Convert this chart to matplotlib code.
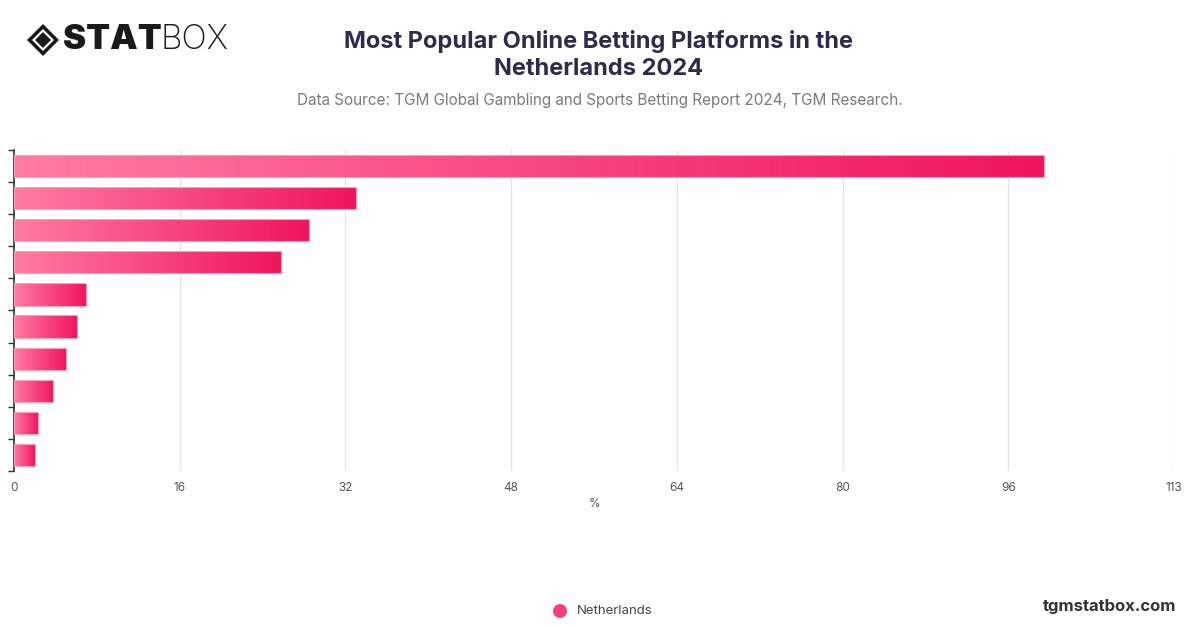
import numpy as np
import matplotlib.pyplot as plt
from matplotlib.colors import LinearSegmentedColormap
from matplotlib.patches import Polygon, Ellipse

# data (no category labels are shown on the chart)
platforms = ["Platform %d" % i for i in range(1, 11)]
share = [100.3, 33.3, 28.7, 26.0, 7.0, 6.1, 5.1, 3.8, 2.3, 2.0]
x_max = 113
series_name = "Netherlands"

title = "Most Popular Online Betting Platforms in the\nNetherlands 2024"
subtitle = "Data Source: TGM Global Gambling and Sports Betting Report 2024, TGM Research."

plt.rcParams['font.family'] = ['Inter', 'DejaVu Sans']

W, H = 1200, 628
fig = plt.figure(figsize=(W / 100, H / 100), dpi=100)
fig.patch.set_facecolor('white')

ax = fig.add_axes([14 / W, 1 - 471 / H, 1160 / W, 321 / H])

pink = LinearSegmentedColormap.from_list('pk', ['#ff7ca2', '#f0155d'])
grad = np.linspace(0, 1, 256).reshape(1, -1)

y = np.arange(len(platforms))
h = 0.69
bars = ax.barh(y, share, height=h, facecolor='none', edgecolor='#ff9fbd',
               linewidth=0.8, zorder=3)
for b, v, yy in zip(bars, share, y):
    im = ax.imshow(grad, cmap=pink, aspect='auto', zorder=2,
                   extent=[0, v, yy + h / 2, yy - h / 2])
    im.set_clip_path(b)

ax.set_xlim(0, x_max)
ax.set_ylim(len(platforms) - 0.5, -0.5)
ax.set_aspect('auto')

ticks = np.linspace(0, x_max, 8)
ax.set_xticks(ticks)
ax.set_xticklabels([str(int(t + 1e-9)) for t in ticks], fontsize=8.5, color='#555555')
ax.tick_params(axis='x', length=0, pad=8)
ax.grid(axis='x', color='#e4e4e4', linewidth=0.9, zorder=0)
ax.set_axisbelow(True)

ax.set_yticks([])
ax.set_yticks(np.arange(-0.5, len(platforms)), minor=True)
ax.tick_params(axis='y', which='minor', length=4, width=1, color='#333333')
ax.set_yticklabels([], minor=True)

for s in ['top', 'right', 'bottom']:
    ax.spines[s].set_visible(False)
ax.spines['left'].set_color('#333333')
ax.spines['left'].set_linewidth(1.2)

ax.set_xlabel('%', fontsize=8.5, color='#555555', labelpad=3)

# titles
fig.text(598 / W, 1 - 55 / H, title, ha='center', va='center', fontsize=17,
         fontweight='bold', color='#2e2c4c', linespacing=1.3)
fig.text(600 / W, 1 - 101 / H, subtitle, ha='center', va='center', fontsize=11,
         color='#7a7a7a')

# logo
def fx(px):
    return px / W

def fy(py):
    return 1 - py / H

def diamond(cx, cy, r, color):
    return Polygon([(fx(cx - r), fy(cy)), (fx(cx), fy(cy - r)),
                    (fx(cx + r), fy(cy)), (fx(cx), fy(cy + r))],
                   closed=True, transform=fig.transFigure,
                   facecolor=color, edgecolor='none')

for r, c in [(16, '#1a1a1a'), (11, 'white'), (8, '#1a1a1a')]:
    fig.patches.append(diamond(43, 40, r, c))
fig.text(fx(63), fy(40), 'STAT', ha='left', va='center', fontsize=25,
         fontweight='black', color='#1a1a1a')
fig.text(fx(161), fy(40), 'BOX', ha='left', va='center', fontsize=24,
         fontweight='light', color='#1a1a1a')

# legend
fig.patches.append(Ellipse((fx(560), fy(611)), 14 / W, 14 / H, transform=fig.transFigure,
                           facecolor='#f5407a', edgecolor='none'))
fig.text(fx(577), fy(611), series_name, ha='left', va='center', fontsize=9.5, color='#444444')

fig.text(fx(1176), fy(606), 'tgmstatbox.com', ha='right', va='center', fontsize=12,
         fontweight='bold', color='#333333')

fig.savefig('out.png', dpi=100, facecolor='white')
